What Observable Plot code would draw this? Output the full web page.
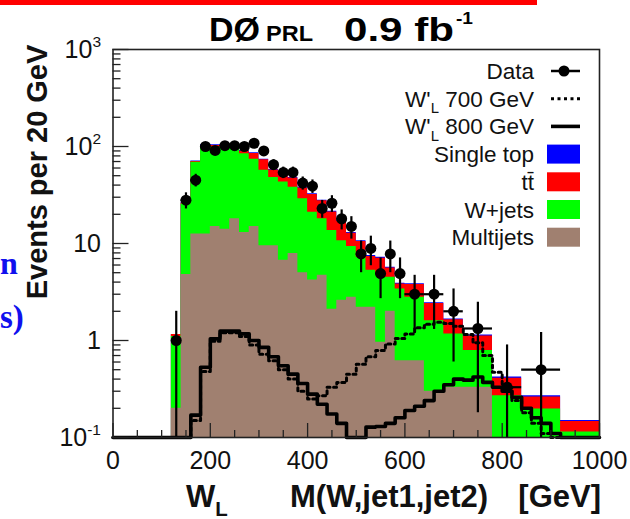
<!DOCTYPE html>
<html>
<head>
<meta charset="utf-8">
<script src="https://cdn.jsdelivr.net/npm/d3@7"></script>
<script src="https://cdn.jsdelivr.net/npm/@observablehq/plot@0.6"></script>
<style>
  html, body { margin: 0; padding: 0; background: #fff; overflow: hidden; }
  #chart { width: 630px; height: 519px; }
  #chart svg { display: block; }
</style>
</head>
<body>
<div id="chart"></div>
<script>
// ---------- background + data binning (GeV) ----------
const bgEdges = [120,140,160,180,200,220,240,260,280,300,320,340,360,380,400,420,440,460,480,500,520,540,560,580,600,640,680,720,780,840,920,1000];
const multijets = [0.2,4.8,12.5,12.5,15,14,18,13,15,9.5,9.5,6.7,7.9,5.0,4.2,4.7,2.1,2.6,2.8,2.2,2.2,0.96,2.0,0.62,0.62,0.3,0.33,0.33,0,0,0];
const wjets = [0.9,20.8,56.3,85.5,83,84,80,71,59,47.5,38.5,36.3,30.1,24,16.8,13.3,11.5,8.1,6.5,5.0,3.1,3.74,2.5,2.78,2.18,1.3,0.84,0.46,0.27,0.197,0.114];
const ttbar = [0.05,0.6,1.4,4.5,4.5,4.5,3.5,5.6,10.7,15.9,9.1,9.2,9.3,8.4,11,9.55,7.55,6.3,3.45,3.3,2.05,2.36,1.09,0.42,0.97,0.8,0.465,0.325,0.138,0.065,0.032];
const singletop = [0,0.3,0.8,1.5,1.5,1.5,1.5,1.4,1.3,1.1,0.9,0.8,0.7,0.6,0.5,0.45,0.35,0.3,0.25,0.2,0.15,0.14,0.11,0.08,0.07,0.05,0.035,0.025,0.012,0.008,0.004];
const dataValues = [1,28,45,100,91,102,102,100,108,90,65,54,54,42,39,23,26,18,15,7.8,8.9,4.9,7.8,4.9,3.0,3.0,2.0,1.33,0.33,0.5,0];
const dataErrors = [1,5.3,6.7,10,9.5,10.1,10.1,10,10.4,9.5,8.1,7.3,7.3,6.5,6.2,4.8,5.1,4.2,3.9,2.8,3.0,2.2,2.8,2.2,1.7,1.7,1.4,1.15,0.57,0.71,0];

// ---------- signal histograms (20 GeV bins) ----------
const sigEdges = [0,20,40,60,80,100,120,140,160,180,200,220,240,260,280,300,320,340,360,380,400,420,440,460,480,500,520,540,560,580,600,620,640,660,680,700,720,740,760,780,800,820,840,860,880,900,920,940,960,980,1000];
const wprime800 = [0,0,0,0,0,0,0,0,0.17,0.53,1.04,1.25,1.25,1.17,1.0,0.85,0.68,0.55,0.45,0.36,0.28,0.22,0.175,0.14,0.095,0.095,0.128,0.13,0.14,0.16,0.19,0.21,0.24,0.3,0.35,0.40,0.39,0.42,0.37,0.33,0.3,0.26,0.2,0.16,0.14,0.11,0,0,0,0];
const wprime700 = [0,0,0,0,0,0,0,0,0.15,0.48,0.98,1.2,1.2,1.1,0.9,0.72,0.62,0.5,0.4,0.3,0.25,0.27,0.33,0.37,0.45,0.57,0.68,0.79,0.92,1.05,1.17,1.35,1.47,1.54,1.5,1.4,1.15,0.95,0.7,0.47,0.33,0.24,0.18,0.14,0.11,0.095,0,0,0,0];

// ---------- axes ----------
const yMajor = [0.1, 1, 10, 100, 1000];
const yLabels = ["10^{-1}", "1", "10", "10^{2}", "10^{3}"];
const yMinor = [0.2,0.3,0.4,0.5,0.6,0.7,0.8,0.9,2,3,4,5,6,7,8,9,20,30,40,50,60,70,80,90,200,300,400,500,600,700,800,900];
const xMajor = [0, 200, 400, 600, 800, 1000];
const xMinor = [50,100,150,250,300,350,450,500,550,650,700,750,850,900,950];

const legendNames = ["Data", "W'_{L} 700 GeV", "W'_{L} 800 GeV", "Single top", "tt\u0304", "W+jets", "Multijets"];
const colors = {singletop: "#0000ff", ttbar: "#ff0000", wjets: "#00ff00", multijets: "#a08070"};

const FLOOR = 0.1;

// cumulative stack
const cumMJ = multijets.slice();
const cumW = cumMJ.map((v, i) => v + wjets[i]);
const cumTT = cumW.map((v, i) => v + ttbar[i]);
const cumST = cumTT.map((v, i) => v + singletop[i]);

function stepPoints(edges, vals) {
  const pts = vals.map((v, i) => ({x: edges[i], y: Math.max(v, FLOOR)}));
  pts.push({x: edges[edges.length - 1], y: Math.max(vals[vals.length - 1], FLOOR)});
  return pts;
}

const dataRows = dataValues
  .map((v, i) => ({lo: bgEdges[i], hi: bgEdges[i + 1], c: (bgEdges[i] + bgEdges[i + 1]) / 2, v, e: dataErrors[i]}))
  .filter(d => d.v > 0);

const yLabelMap = new Map(yMajor.map((d, i) => [d, yLabels[i]]));
const FONT = "'Liberation Sans', Arial, Helvetica, sans-serif";

const plot = Plot.plot({
  width: 630,
  height: 519,
  marginLeft: 112.5,
  marginRight: 31,
  marginTop: 49,
  marginBottom: 82,
  style: {fontFamily: FONT, background: "#fff", color: "#111", overflow: "visible"},
  x: {domain: [0, 1000]},
  y: {type: "log", domain: [0.1, 1000]},
  marks: [
    Plot.areaY(stepPoints(bgEdges, cumST), {x: "x", y1: FLOOR, y2: "y", curve: "step-after", fill: colors.singletop}),
    Plot.areaY(stepPoints(bgEdges, cumTT), {x: "x", y1: FLOOR, y2: "y", curve: "step-after", fill: colors.ttbar}),
    Plot.areaY(stepPoints(bgEdges, cumW), {x: "x", y1: FLOOR, y2: "y", curve: "step-after", fill: colors.wjets}),
    Plot.areaY(stepPoints(bgEdges, cumMJ), {x: "x", y1: FLOOR, y2: "y", curve: "step-after", fill: colors.multijets}),
    Plot.line(stepPoints(sigEdges, wprime800), {x: "x", y: "y", curve: "step-after", stroke: "#000", strokeWidth: 3.6}),
    Plot.line(stepPoints(sigEdges, wprime700), {x: "x", y: "y", curve: "step-after", stroke: "#000", strokeWidth: 3, strokeDasharray: "3,3.5"}),
    Plot.ruleX(dataRows, {x: "c", y1: d => Math.max(d.v - d.e, FLOOR), y2: d => d.v + d.e, stroke: "#000", strokeWidth: 2.2}),
    Plot.ruleY(dataRows, {y: "v", x1: "lo", x2: "hi", stroke: "#000", strokeWidth: 2.2}),
    Plot.dot(dataRows, {x: "c", y: "v", r: 5.5, fill: "#000", stroke: "none"}),
    Plot.axisY(yMajor, {tickSize: -16, tickFormat: () => "", label: null, stroke: "#222", strokeWidth: 1.3}),
    Plot.axisY(yMinor, {tickSize: -8, tickFormat: () => "", label: null, stroke: "#222", strokeWidth: 1.3}),
    Plot.axisY(yMajor, {tickSize: 0, tickPadding: 12, fontSize: 25, tickFormat: d => yLabelMap.get(d), label: null}),
    Plot.axisX(xMajor, {tickSize: -14, tickFormat: () => "", label: null, stroke: "#222", strokeWidth: 1.3}),
    Plot.axisX(xMinor, {tickSize: -7, tickFormat: () => "", label: null, stroke: "#222", strokeWidth: 1.3}),
    Plot.axisX(xMajor, {tickSize: 0, tickPadding: 14, fontSize: 25, tickFormat: d => String(d), label: null}),
    Plot.frame({stroke: "#222", strokeWidth: 1.6})
  ]
});

document.getElementById("chart").appendChild(plot);
const svg = d3.select(plot);

// rich text helper: ^{..} superscript, _{..} subscript
function rich(sel, str, fs) {
  sel.text(null);
  const parts = str.split(/(\^\{[^}]*\}|_\{[^}]*\})/).filter(p => p !== "");
  let shift = 0;
  for (const p of parts) {
    let content = p, target = 0, size = null;
    if (p.startsWith("^{")) { content = p.slice(2, -1); target = -0.42 * fs; size = 0.62 * fs; }
    else if (p.startsWith("_{")) { content = p.slice(2, -1); target = 0.3 * fs; size = 0.66 * fs; }
    const ts = sel.append("tspan").text(content);
    if (target - shift !== 0) ts.attr("dy", target - shift);
    if (size) ts.attr("font-size", size);
    shift = target;
  }
}

svg.selectAll("text").each(function() {
  const t = this.textContent;
  if (t.includes("^{") || t.includes("_{")) rich(d3.select(this), t, 25);
});

function addText(x, y, str, opts = {}) {
  const t = svg.append("text")
    .attr("x", x).attr("y", y)
    .attr("text-anchor", opts.anchor || "start")
    .attr("font-family", opts.family || FONT)
    .attr("font-weight", opts.weight || "normal")
    .attr("font-size", opts.size || 20)
    .attr("fill", opts.fill || "#111");
  if (opts.length) t.attr("textLength", opts.length).attr("lengthAdjust", "spacingAndGlyphs");
  if (opts.rich) rich(t, str, opts.size || 20); else t.text(str);
  return t;
}

// red bar at top (slide decoration)
svg.append("rect").attr("x", 0).attr("y", 0).attr("width", 537).attr("height", 5).attr("fill", "#ff0000");

// title
addText(209, 41, "DØ", {weight: "bold", size: 34, length: 51, fill: "#000"});
addText(266, 41, "PRL", {weight: "bold", size: 22, length: 47, fill: "#000"});
addText(344, 41, "0.9 fb", {weight: "bold", size: 34, length: 110, fill: "#000"});
addText(456, 24, "-1", {weight: "bold", size: 16, length: 17, fill: "#000"});

// y-axis title
svg.append("text")
  .attr("transform", "translate(47,172) rotate(-90)")
  .attr("text-anchor", "middle")
  .attr("font-family", FONT).attr("font-weight", "bold").attr("font-size", 29).attr("fill", "#111")
  .text("Events per 20 GeV");

// x-axis title
addText(186, 507, "W_{L}", {weight: "bold", size: 31, rich: true});
addText(290, 507, "M(W,jet1,jet2)", {weight: "bold", size: 31});
addText(601, 507, "[GeV]", {weight: "bold", size: 31, anchor: "end"});

// blue slide text fragments on the left edge
const SERIF = "'Liberation Serif', 'Times New Roman', serif";
addText(0, 274, "n", {family: SERIF, weight: "bold", size: 32, fill: "#1010ee"});
addText(0, 328, "s)", {family: SERIF, weight: "bold", size: 33, fill: "#1010ee"});

// legend (inside frame, top-right)
const symFill = [null, null, null, colors.singletop, colors.ttbar, colors.wjets, colors.multijets];
legendNames.forEach((name, i) => {
  const cy = 71 + i * 27.7;
  addText(534, cy + 8, name, {size: 22.5, anchor: "end", rich: true});
  if (i === 0) {
    svg.append("line").attr("x1", 551).attr("x2", 580).attr("y1", cy).attr("y2", cy).attr("stroke", "#000").attr("stroke-width", 2.5);
    svg.append("circle").attr("cx", 564).attr("cy", cy).attr("r", 5.5).attr("fill", "#000");
  } else if (i === 1) {
    svg.append("line").attr("x1", 551).attr("x2", 580).attr("y1", cy).attr("y2", cy).attr("stroke", "#000").attr("stroke-width", 3).attr("stroke-dasharray", "3,3.5");
  } else if (i === 2) {
    svg.append("line").attr("x1", 551).attr("x2", 580).attr("y1", cy).attr("y2", cy).attr("stroke", "#000").attr("stroke-width", 3.6);
  } else {
    svg.append("rect").attr("x", 547).attr("y", cy - 9.5).attr("width", 33).attr("height", 19).attr("fill", symFill[i]);
  }
});
</script>
</body>
</html>
